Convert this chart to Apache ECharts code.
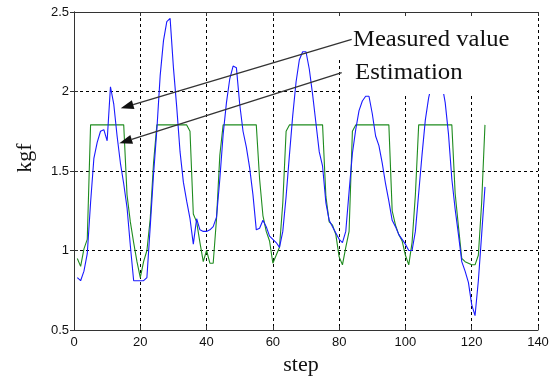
<!DOCTYPE html>
<html>
<head>
<meta charset="utf-8">
<script src="https://cdn.jsdelivr.net/npm/echarts@6/dist/echarts.min.js"></script>
<style>
  html, body { margin: 0; padding: 0; background: #fff; }
  #main { width: 555px; height: 378px; }
</style>
</head>
<body>
<div id="main"></div>
<script>
// steps 1..124
const steps = Array.from({ length: 124 }, (_, i) => i + 1);

const measured = [
  0.83, 0.81, 0.87, 0.98, 1.30, 1.58, 1.68, 1.75, 1.76, 1.69,
  2.03, 1.92, 1.72, 1.55, 1.42, 1.27, 1.03, 0.81, 0.81, 0.81,
  0.81, 0.83, 1.15, 1.48, 1.76, 2.10, 2.32, 2.44, 2.46, 2.15,
  1.90, 1.62, 1.43, 1.31, 1.20, 1.04, 1.20, 1.13, 1.12, 1.12,
  1.13, 1.15, 1.21, 1.45, 1.73, 1.93, 2.08, 2.16, 2.15, 1.92,
  1.75, 1.65, 1.52, 1.35, 1.13, 1.14, 1.19, 1.15, 1.09, 1.07,
  1.05, 1.02, 1.12, 1.34, 1.60, 1.85, 2.06, 2.20, 2.25, 2.25,
  2.14, 1.98, 1.80, 1.62, 1.53, 1.30, 1.19, 1.15, 1.11, 1.07,
  1.05, 1.12, 1.37, 1.61, 1.76, 1.88, 1.94, 1.97, 1.97, 1.86,
  1.72, 1.66, 1.55, 1.42, 1.31, 1.19, 1.15, 1.10, 1.07, 1.04,
  1.00, 1.00, 1.12, 1.36, 1.60, 1.82, 1.96, 2.05, 2.12, 2.13,
  2.05, 1.93, 1.73, 1.45, 1.26, 1.10, 0.93, 0.87, 0.80, 0.66,
  0.59, 0.81, 1.10, 1.40
];

const estimation = [
  0.95, 0.90, 1.01, 1.07, 1.79, 1.79, 1.79, 1.79, 1.79, 1.79,
  1.79, 1.79, 1.79, 1.79, 1.79, 1.35, 1.18, 1.05, 0.93, 0.83,
  0.93, 1.00, 1.20, 1.55, 1.79, 1.79, 1.79, 1.79, 1.79, 1.79,
  1.79, 1.79, 1.79, 1.79, 1.75, 1.23, 1.18, 1.05, 0.93, 1.00,
  0.92, 0.92, 1.20, 1.60, 1.79, 1.79, 1.79, 1.79, 1.79, 1.79,
  1.79, 1.79, 1.79, 1.79, 1.79, 1.45, 1.22, 1.12, 1.06, 0.92,
  0.97, 1.02, 1.30, 1.75, 1.79, 1.79, 1.79, 1.79, 1.79, 1.79,
  1.79, 1.79, 1.79, 1.79, 1.79, 1.34, 1.18, 1.16, 1.10, 0.96,
  0.91, 1.02, 1.12, 1.75, 1.79, 1.79, 1.79, 1.79, 1.79, 1.79,
  1.79, 1.79, 1.79, 1.79, 1.79, 1.25, 1.16, 1.10, 1.06, 0.97,
  0.91, 1.05, 1.35, 1.79, 1.79, 1.79, 1.79, 1.79, 1.79, 1.79,
  1.79, 1.79, 1.79, 1.79, 1.36, 1.15, 0.95, 0.93, 0.92, 0.91,
  0.91, 0.97, 1.30, 1.79
];

const xTicks = [0, 20, 40, 60, 80, 100, 120, 140];
const yTicks = [0.5, 1, 1.5, 2, 2.5];

// arrow from text to curve (pixel positions of the annotation)
function arrow(x1, y1, x2, y2) {
  const dx = x2 - x1, dy = y2 - y1;
  const len = Math.sqrt(dx * dx + dy * dy);
  const ux = dx / len, uy = dy / len;
  const hl = 13, hw = 4.5;
  const bx = x2 - ux * hl, by = y2 - uy * hl;
  return [
    { type: 'line', z: 60, shape: { x1: x1, y1: y1, x2: bx, y2: by },
      style: { stroke: '#333', lineWidth: 1.3 } },
    { type: 'polygon', z: 60,
      shape: { points: [[x2, y2], [bx - uy * hw, by + ux * hw], [bx + uy * hw, by - ux * hw]] },
      style: { fill: '#111' } }
  ];
}

const chart = echarts.init(document.getElementById('main'));

const option = {
  animation: false,
  backgroundColor: '#fff',
  grid: { left: 74, right: 17, top: 12, bottom: 48, containLabel: false, outerBoundsMode: 'none' },
  xAxis: [
    {
      type: 'value', min: 0, max: 140, interval: 20, position: 'bottom',
      axisLine: { show: true, lineStyle: { color: '#333', width: 1 } },
      axisTick: { show: true, inside: true, length: 4, lineStyle: { color: '#333' } },
      axisLabel: { color: '#111', fontSize: 13, fontFamily: 'Liberation Sans', margin: 6 },
      splitLine: { show: true, lineStyle: { color: '#000', width: 1, type: [3, 3] } }
    },
    {
      type: 'value', min: 0, max: 140, interval: 20, position: 'top', z: 100,
      axisLine: { show: true, lineStyle: { color: '#333', width: 1 } },
      axisTick: { show: true, inside: true, length: 4, lineStyle: { color: '#333' } },
      axisLabel: { show: false },
      splitLine: { show: false }
    }
  ],
  yAxis: [
    {
      type: 'value', min: 0.5, max: 2.5, interval: 0.5, position: 'left',
      axisLine: { show: true, lineStyle: { color: '#333', width: 1 } },
      axisTick: { show: true, inside: true, length: 4, lineStyle: { color: '#333' } },
      axisLabel: { color: '#111', fontSize: 13, fontFamily: 'Liberation Sans', margin: 5 },
      splitLine: { show: true, lineStyle: { color: '#000', width: 1, type: [3, 3] } }
    },
    {
      type: 'value', min: 0.5, max: 2.5, interval: 0.5, position: 'right', z: 100,
      axisLine: { show: true, lineStyle: { color: '#333', width: 1 } },
      axisTick: { show: true, inside: true, length: 4, lineStyle: { color: '#333' } },
      axisLabel: { show: false },
      splitLine: { show: false }
    }
  ],
  series: [
    {
      name: 'Estimation', type: 'line', xAxisIndex: 0, yAxisIndex: 0,
      showSymbol: false, symbol: 'none',
      lineStyle: { color: '#1f8c1f', width: 1.1 },
      data: steps.map((s, i) => [s, estimation[i]])
    },
    {
      name: 'Measured value', type: 'line', xAxisIndex: 0, yAxisIndex: 0,
      showSymbol: false, symbol: 'none',
      lineStyle: { color: '#1a1aff', width: 1.1 },
      data: steps.map((s, i) => [s, measured[i]])
    }
  ],
  graphic: [
    // white text boxes covering the plot behind the annotations
    { type: 'rect', z: 50, shape: { x: 337, y: 13, width: 200, height: 45 }, style: { fill: '#fff' } },
    { type: 'rect', z: 50, shape: { x: 340, y: 58, width: 197, height: 36 }, style: { fill: '#fff' } },
    { type: 'text', z: 60, x: 353, y: 40, scaleX: 1.07,
      style: { text: 'Measured value', fill: '#111', font: '23px "Liberation Serif"', textVerticalAlign: 'middle' } },
    { type: 'text', z: 60, x: 355, y: 73, scaleX: 1.08,
      style: { text: 'Estimation', fill: '#111', font: '23px "Liberation Serif"', textVerticalAlign: 'middle' } },
    ...arrow(351.7, 39.3, 120.7, 108.3),
    ...arrow(341.7, 72.7, 119.3, 143.3),
    { type: 'text', z: 60, x: 301, y: 365,
      style: { text: 'step', fill: '#111', font: '22px "Liberation Serif"', textAlign: 'center', textVerticalAlign: 'middle' } },
    { type: 'text', z: 60, x: 25, y: 158, rotation: Math.PI / 2,
      style: { text: 'kgf', fill: '#111', font: '22px "Liberation Serif"', textAlign: 'center', textVerticalAlign: 'middle' } }
  ]
};

chart.setOption(option);
</script>
</body>
</html>
